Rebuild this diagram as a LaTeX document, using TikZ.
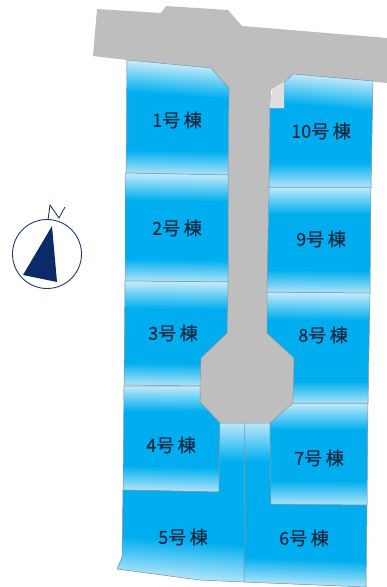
\documentclass[tikz,border=0pt]{standalone}
\usepackage{fontspec}
\newfontfamily\jpfont[FakeBold=0.4]{Noto Sans CJK JP}
\definecolor{lotblue}{HTML}{00AEEF}
\definecolor{lotpale}{HTML}{E6F5FC}
\definecolor{roadgray}{HTML}{BEBEBE}
\definecolor{notchgray}{HTML}{DEDEDE}
\definecolor{lotedge}{HTML}{8A969E}
\definecolor{navy}{HTML}{0B2A68}
\definecolor{inkdark}{HTML}{0E2744}
\tikzset{
  lotfill/.style={fill=lotblue},
  lotline/.style={draw=lotedge,line width=0.5pt,line join=round},
  lotlabel/.style={text=inkdark,font=\jpfont\fontsize{18}{18}\selectfont,inner sep=0pt},
  road/.style={fill=roadgray},
  notch/.style={fill=notchgray},
  compassline/.style={draw=navy!80!gray,line width=0.9pt},
}
% polygon, centre x, top y, top angle, top height, bottom y, bottom angle, bottom height
\newcommand{\lotshape}[8]{%
  \fill[lotfill] #1;
  \begin{scope}
    \clip #1;
    \fill[lotpale,transform canvas={rotate around={#4:(#2,#3)}}] (#2-110,#3-40) rectangle (#2+110,#3+3-0.5*#5);
    \shade[transform canvas={rotate around={#4:(#2,#3)}},top color=lotpale,bottom color=lotblue]
      (#2-110,#3+3-0.5*#5) rectangle (#2+110,#3+3+1.5*#5);
    \shade[transform canvas={rotate around={#7:(#2,#6)}},top color=lotblue,bottom color=lotpale!94!lotblue]
      (#2-110,#6-2-1.5*#8) rectangle (#2+110,#6-2+0.5*#8);
    \fill[lotpale!94!lotblue,transform canvas={rotate around={#7:(#2,#6)}}] (#2-110,#6-2+0.5*#8) rectangle (#2+110,#6+20);
  \end{scope}
  \draw[lotline] #1;
}
\begin{document}
\begin{tikzpicture}[x=1pt,y=-1pt]
\useasboundingbox (0,0) rectangle (387,587);
\fill[white] (0,0) rectangle (387,587);
% road
\fill[road] (97,9) -- (161,13) -- (166,6) -- (228,10) -- (242,26) -- (387,38) -- (387,83)
  -- (293,74) -- (284,82) -- (271,90) -- (269,170) -- (267,333) -- (294,358) -- (293,403)
  -- (270,423) -- (220,423) -- (200,402) -- (201,358) -- (227,333) -- (228,170) -- (229,88)
  -- (211,68) -- (127,60) -- (93,56) -- cycle;
% lots
\lotshape{(127,60) -- (211,68) -- (229,88) -- (228,175) -- (126,173) -- cycle}{177}{65}{-4}{18}{175}{-1}{15}
\lotshape{(125,173) -- (228,175) -- (228,282) -- (125,281) -- cycle}{177}{174}{-1}{16}{282}{-0.6}{14}
\lotshape{(125,281) -- (228,282) -- (227,333) -- (201,358) -- (200,386) -- (124,385) -- cycle}{175}{282}{-0.6}{16}{386}{-0.6}{14}
\lotshape{(124,386) -- (200,386) -- (200,402) -- (220,423) -- (219,492) -- (123,490) -- cycle}{170}{386}{-0.3}{15}{491}{-1.2}{15}
\lotshape{(123,490) -- (219,492) -- (220,423) -- (245,423) -- (244,582) -- (200,580) -- (117,569) -- (122,557) -- cycle}{183}{423}{0}{24}{577}{-4}{23}
\lotshape{(245,423) -- (270,423) -- (271,504) -- (367,505) -- (366,587) -- (244,582) -- cycle}{305}{423}{0}{24}{585}{-2}{16}
\lotshape{(270,423) -- (293,403) -- (368,403) -- (367,505) -- (271,504) -- cycle}{320}{403}{0}{16}{505}{-0.3}{15}
\lotshape{(267,292) -- (370,293) -- (368,403) -- (293,403) -- (294,358) -- (267,333) -- cycle}{320}{293}{-0.6}{16}{404}{0}{14}
\lotshape{(269,187) -- (371,187) -- (370,293) -- (267,292) -- cycle}{320}{187}{0}{16}{293}{-0.6}{14}
\lotshape{(293,74) -- (373,81) -- (371,187) -- (269,187) -- (270,108) -- (284,108) -- (284,83) -- cycle}{330}{77}{-5}{18}{187}{0}{15}
% notch
\fill[notch] (272,90) -- (284,83) -- (284,108) -- (270,108) -- cycle;
% labels
\node[lotlabel] (l1) at (177,120) {1号\hspace{3.5pt}棟};
\node[lotlabel] (l2) at (177,228) {2号\hspace{3.5pt}棟};
\node[lotlabel] (l3) at (173,333) {3号\hspace{3.5pt}棟};
\node[lotlabel] (l4) at (171,445) {4号\hspace{3.5pt}棟};
\node[lotlabel] (l5) at (183,537) {5号\hspace{3.5pt}棟};
\node[lotlabel] (l6) at (304,538) {6号\hspace{3.5pt}棟};
\node[lotlabel] (l7) at (319,458) {7号\hspace{3.5pt}棟};
\node[lotlabel] (l8) at (323,335) {8号\hspace{3.5pt}棟};
\node[lotlabel] (l9) at (321,239) {9号\hspace{3.5pt}棟};
\node[lotlabel] (l10) at (321,131) {10号\hspace{3.5pt}棟};
% compass
\draw[compassline] (47,254) circle (34.5);
\fill[navy] (52,226) -- (23,275) -- (57,282) -- cycle;
\draw[compassline,line join=miter] (48,220) -- (50,205) -- (59,218) -- (65,207);
\end{tikzpicture}
\end{document}
